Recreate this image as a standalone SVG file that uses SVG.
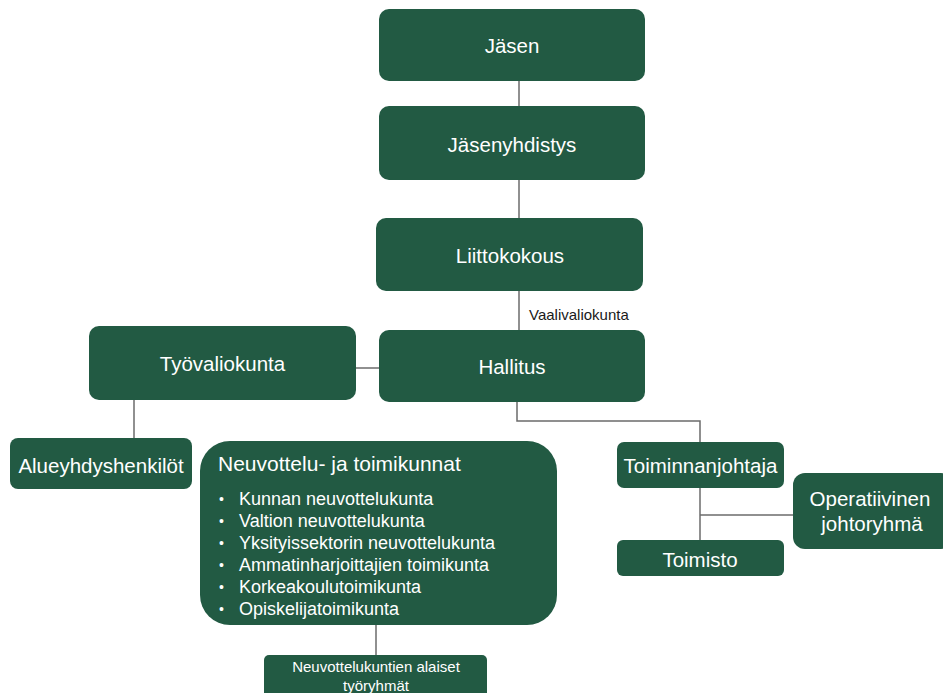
<svg xmlns="http://www.w3.org/2000/svg" width="943" height="693" viewBox="0 0 943 693">
<style>
.box{fill:#225a43;}
.t{font-family:"Liberation Sans",Arial,sans-serif;fill:#ffffff;font-size:20.5px;text-anchor:middle;}
.li{font-family:"Liberation Sans",Arial,sans-serif;fill:#ffffff;font-size:18px;}
.b{font-family:"Liberation Sans",Arial,sans-serif;fill:#ffffff;font-size:14px;}
.s{font-family:"Liberation Sans",Arial,sans-serif;fill:#ffffff;font-size:15px;text-anchor:middle;}
.lbl{font-family:"Liberation Sans",Arial,sans-serif;fill:#1a1a1a;font-size:15px;}
.c{stroke:#6b6b6b;stroke-width:1.5;fill:none;}
</style>
<rect width="943" height="693" fill="#ffffff"/>
<g id="connectors">
<line class="c" x1="519" y1="81" x2="519" y2="106"/>
<line class="c" x1="519" y1="180" x2="519" y2="218"/>
<line class="c" x1="519" y1="291" x2="519" y2="330"/>
<line class="c" x1="356" y1="368" x2="379" y2="368"/>
<line class="c" x1="134" y1="400" x2="134" y2="438"/>
<polyline class="c" points="517,402 517,421 700,421 700,442"/>
<line class="c" x1="700" y1="488" x2="700" y2="540"/>
<line class="c" x1="700" y1="515" x2="793" y2="515"/>
<line class="c" x1="376" y1="625" x2="376" y2="655"/>
<text class="lbl" x="529" y="320">Vaalivaliokunta</text>
</g>
<g id="jasen"><rect class="box" x="379" y="9" width="266" height="72" rx="10"/><text class="t" x="512" y="53">Jäsen</text></g>
<g id="jasenyhdistys"><rect class="box" x="379" y="106" width="266" height="74" rx="10"/><text class="t" x="512" y="152">Jäsenyhdistys</text></g>
<g id="liittokokous"><rect class="box" x="376" y="218" width="267" height="73" rx="10"/><text class="t" x="510" y="263">Liittokokous</text></g>
<g id="hallitus"><rect class="box" x="379" y="330" width="266" height="72" rx="10"/><text class="t" x="512" y="374">Hallitus</text></g>
<g id="tyovaliokunta"><rect class="box" x="89" y="326" width="267" height="74" rx="10"/><text class="t" x="222.5" y="371">Työvaliokunta</text></g>
<g id="alueyhdyshenkilot"><rect class="box" x="10" y="438" width="182" height="51" rx="8"/><text class="t" x="101" y="473">Alueyhdyshenkilöt</text></g>
<g id="neuvottelu"><rect class="box" x="200" y="441" width="357" height="184" rx="30"/>
<text class="t" x="218" y="471" style="text-anchor:start;font-size:21px">Neuvottelu- ja toimikunnat</text>
<text class="b" x="219" y="504">•</text><text class="li" x="239" y="505">Kunnan neuvottelukunta</text>
<text class="b" x="219" y="526">•</text><text class="li" x="239" y="527">Valtion neuvottelukunta</text>
<text class="b" x="219" y="548">•</text><text class="li" x="239" y="549">Yksityissektorin neuvottelukunta</text>
<text class="b" x="219" y="570">•</text><text class="li" x="239" y="571">Ammatinharjoittajien toimikunta</text>
<text class="b" x="219" y="592">•</text><text class="li" x="239" y="593">Korkeakoulutoimikunta</text>
<text class="b" x="219" y="614">•</text><text class="li" x="239" y="615">Opiskelijatoimikunta</text>
</g>
<g id="tyoryhmat"><rect class="box" x="264" y="655" width="223" height="50" rx="5"/><text class="s" x="376" y="672">Neuvottelukuntien alaiset</text><text class="s" x="376" y="691">työryhmät</text></g>
<g id="toiminnanjohtaja"><rect class="box" x="617" y="442" width="167" height="46" rx="7"/><text class="t" x="700.5" y="473">Toiminnanjohtaja</text></g>
<g id="operatiivinen"><rect class="box" x="793" y="473" width="160" height="76" rx="12"/><text class="t" x="870" y="506">Operatiivinen</text><text class="t" x="872" y="531">johtoryhmä</text></g>
<g id="toimisto"><rect class="box" x="617" y="540" width="167" height="36" rx="6"/><text class="t" x="700" y="567">Toimisto</text></g>
</svg>
